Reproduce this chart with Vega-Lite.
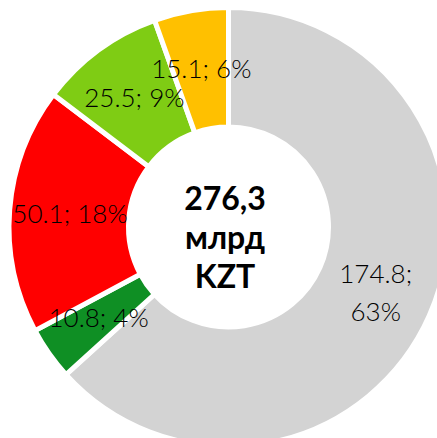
{
  "$schema": "https://vega.github.io/schema/vega-lite/v6.json",
  "width": 437,
  "height": 438,
  "autosize": {"type": "none"},
  "padding": 0,
  "background": "white",
  "config": {"view": {"stroke": null}},
  "data": {"values": [
    {"cat": "1", "value": 174.8, "label": "", "label2": "174.8;\n63%"},
    {"cat": "2", "value": 10.8, "label": "10.8; 4%", "label2": ""},
    {"cat": "3", "value": 50.1, "label": "50.1; 18%", "label2": ""},
    {"cat": "4", "value": 25.5, "label": "25.5; 9%", "label2": ""},
    {"cat": "5", "value": 15.1, "label": "15.1; 6%", "label2": ""}
  ]},
  "layer": [
    {
      "mark": {"type": "arc", "x": 228.5, "y": 227, "innerRadius": 100, "outerRadius": 219.5, "stroke": "white", "strokeWidth": 5},
      "encoding": {
        "theta": {"field": "value", "type": "quantitative", "stack": true},
        "order": {"field": "cat", "type": "ordinal"},
        "color": {"field": "cat", "type": "nominal", "legend": null,
          "scale": {"domain": ["1", "2", "3", "4", "5"], "range": ["#D3D3D3", "#0F8F24", "#FF0000", "#7FCC14", "#FFC000"]}}
      }
    },
    {
      "mark": {"type": "text", "x": 228.5, "y": 227, "radius": 159, "font": "Lato", "fontWeight": 300, "fontSize": 26, "fill": "#000000", "align": "center", "baseline": "middle"},
      "encoding": {
        "theta": {"field": "value", "type": "quantitative", "stack": true},
        "order": {"field": "cat", "type": "ordinal"},
        "text": {"field": "label"}
      }
    },
    {
      "mark": {"type": "text", "x": 228.5, "y": 227, "radius": 161, "dy": -17, "font": "Lato", "fontWeight": 300, "fontSize": 26, "fill": "#000000", "align": "center", "baseline": "middle", "lineBreak": "\n", "lineHeight": 38},
      "encoding": {
        "theta": {"field": "value", "type": "quantitative", "stack": true},
        "order": {"field": "cat", "type": "ordinal"},
        "text": {"field": "label2"}
      }
    },
    {
      "data": {"values": [{"t": "276,3\nмлрд\nKZT"}]},
      "mark": {"type": "text", "x": 225, "y": 200, "font": "Lato", "fontWeight": "bold", "fontSize": 32, "fill": "#000000", "align": "center", "baseline": "middle", "lineBreak": "\n", "lineHeight": 39},
      "encoding": {"text": {"field": "t"}}
    }
  ]
}
